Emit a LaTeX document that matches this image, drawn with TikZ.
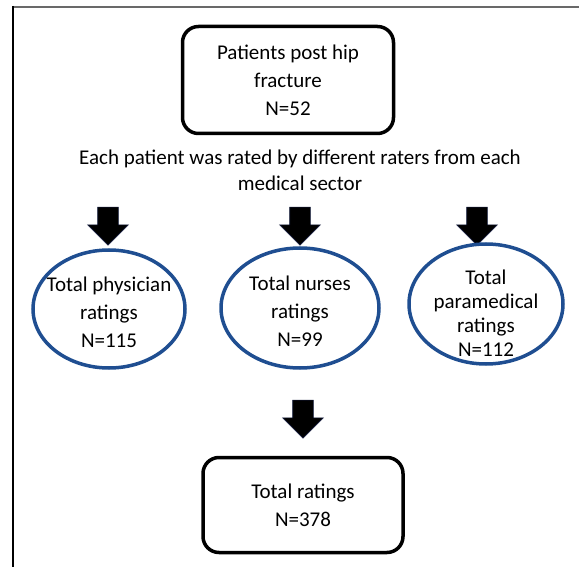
\documentclass[tikz,border=0pt]{standalone}
\usepackage{fontspec}
\setmainfont{Carlito}
\usetikzlibrary{shapes.geometric,shapes.arrows}
\definecolor{ringblue}{RGB}{31,78,145}
\definecolor{framegrey}{RGB}{105,105,105}
\tikzset{
  txt/.style={align=center,font=\fontsize{21}{28}\selectfont,text=black},
  countbox/.style={txt,draw=black,line width=3.5pt,rounded corners=16pt,inner sep=0pt},
  ratingring/.style={draw=ringblue,line width=3.5pt,ellipse,inner sep=0pt},
  downarrow/.style={single arrow,shape border rotate=270,fill=black,draw={rgb,255:red,20;green,28;blue,60},
    line width=0.6pt,inner sep=10pt,minimum height=38pt,single arrow head extend=10pt,single arrow head indent=0pt}
}
\begin{document}
\begin{tikzpicture}[x=1pt,y=-1pt]
% 579 x 567, page frame open at the right and bottom
\useasboundingbox (0,0) rectangle (579,567);
\path[draw=framegrey,line width=2pt] (579,7) -- (13,7);
\path[draw=black,line width=1.4pt] (13,6) -- (13,567);
\node[countbox,minimum width=211pt,minimum height=107pt] (patients) at (288,80)
  {Patients post hip\\fracture\\N=52};
\node[txt,font=\fontsize{21}{26}\selectfont] (sector) at (300,170) {Each patient was rated by different raters from each\\medical sector};
\node[downarrow] (arrphys) at (108,221) {};
\node[downarrow] (arrnurse) at (300,221) {};
\node[downarrow] (arrpara) at (477,221) {};
\node[ratingring,minimum width=152pt,minimum height=118pt] (phys) at (109,309) {};
\node[txt] at ([yshift=-3pt]phys.center) {Total physician\\ratings\\N=115};
\node[ratingring,minimum width=158pt,minimum height=120pt] (nurse) at (300,308) {};
\node[txt] at ([yshift=-3pt]nurse.center) {Total nurses\\ratings\\N=99};
\node[ratingring,minimum width=154pt,minimum height=120pt] (para) at (486,304) {};
\node[txt,font=\fontsize{21}{24}\selectfont] at ([yshift=-9pt]para.center) {Total\\paramedical\\ratings\\N=112};
\node[downarrow] (arrtotal) at (303,414) {};
\node[countbox,minimum width=200pt,minimum height=95pt] (total) at (303,505)
  {Total ratings\\N=378};
\end{tikzpicture}
\end{document}
